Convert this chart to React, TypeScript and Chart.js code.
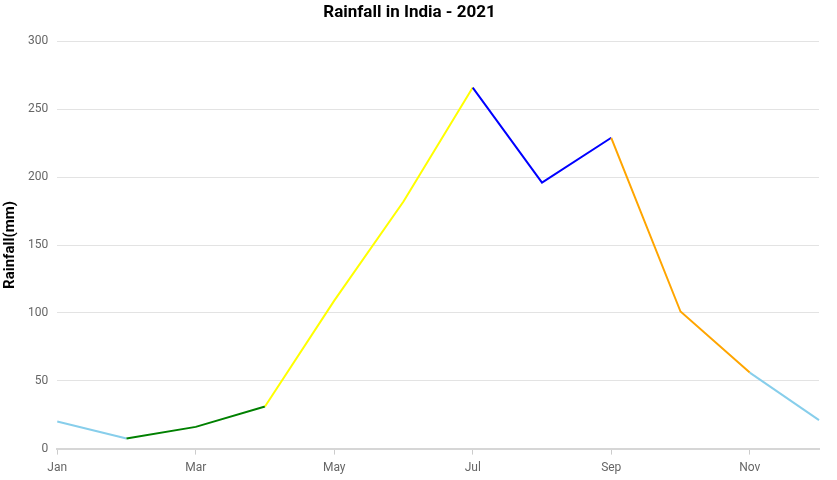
import React, { useEffect, useRef } from "react";
import { Chart, registerables } from "chart.js";

Chart.register(...registerables);

const months = ["Jan", "Feb", "Mar", "Apr", "May", "Jun", "Jul", "Aug", "Sep", "Oct", "Nov", "Dec"];
const rainfall = [20, 7.5, 16, 31, 109, 182, 266, 196, 229, 101, 56, 21];
// colour of the segment starting at each month
const segmentColors = ["skyblue", "green", "green", "yellow", "yellow", "yellow", "blue", "blue", "orange", "orange", "skyblue"];

export default function App() {
  const ref = useRef<HTMLCanvasElement | null>(null);

  useEffect(() => {
    document.body.style.margin = "0";
    const ctx = ref.current!;
    const chart = new Chart(ctx, {
      type: "line",
      data: {
        labels: months,
        datasets: [
          {
            label: "Rainfall",
            data: rainfall,
            borderWidth: 2,
            borderColor: "skyblue",
            pointRadius: 0,
            pointHoverRadius: 0,
            fill: false,
            tension: 0,
            segment: {
              borderColor: (c: any) => segmentColors[c.p0DataIndex],
            },
          },
        ],
      },
      options: {
        animation: false,
        responsive: false,
        maintainAspectRatio: false,
        layout: { padding: { left: 0, right: 18, top: 0, bottom: -1 } },
        plugins: {
          legend: { display: false },
          tooltip: { enabled: false },
          title: {
            display: true,
            text: "Rainfall in India - 2021",
            color: "#000",
            font: { family: "Roboto", size: 17, weight: "bold" },
            padding: { top: 3, bottom: 18 },
          },
        },
        scales: {
          x: {
            grid: { drawOnChartArea: false, drawTicks: true, tickLength: 6, color: "#ccc" },
            border: { display: true, color: "#d6d6d6", width: 2 },
            ticks: {
              autoSkip: true,
              maxTicksLimit: 6,
              maxRotation: 0,
              color: "#666",
              font: { family: "Roboto", size: 12 },
              padding: 6,
            },
          },
          y: {
            min: 0,
            max: 300,
            ticks: {
              stepSize: 50,
              color: "#666",
              font: { family: "Roboto", size: 12 },
              padding: 9,
            },
            grid: { drawTicks: false, color: "#e3e3e3" },
            border: { display: false },
            title: {
              display: true,
              text: "Rainfall(mm)",
              color: "#000",
              font: { family: "Roboto", size: 15, weight: "bold" },
              padding: { top: 1, bottom: 0 },
            },
          },
        },
      },
    });
    return () => chart.destroy();
  }, []);

  return (
    <div style={{ width: 837, height: 480 }}>
      <canvas ref={ref} width={837} height={480} style={{ display: "block" }} />
    </div>
  );
}
